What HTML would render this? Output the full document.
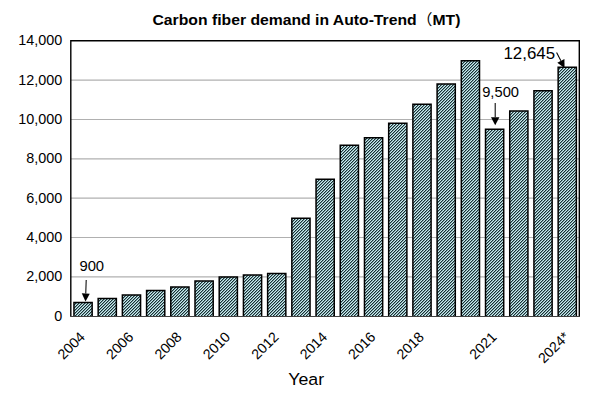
<!DOCTYPE html><html><head><meta charset="utf-8"><title>Carbon fiber demand in Auto-Trend</title><style>html,body{margin:0;padding:0;background:#fff;width:600px;height:400px;overflow:hidden}svg{display:block}text{font-family:"Liberation Sans","Noto Sans CJK JP",Arial,sans-serif;fill:#000}</style></head><body>
<svg width="600" height="400" viewBox="0 0 600 400">
<defs><pattern id="h" patternUnits="userSpaceOnUse" x="0" y="0" width="3" height="3"><rect width="3" height="3" fill="#7a9ca2"/><rect x="0" y="0" width="1" height="1" fill="#193032"/><rect x="1" y="2" width="1" height="1" fill="#193032"/><rect x="2" y="1" width="1" height="1" fill="#193032"/><rect x="1" y="1" width="1" height="1" fill="#caecf0"/><rect x="0" y="2" width="1" height="1" fill="#caecf0"/><rect x="2" y="0" width="1" height="1" fill="#caecf0"/></pattern></defs>
<rect width="600" height="400" fill="#fff"/>
<line x1="70.8" y1="276.86" x2="579.3" y2="276.86" stroke="#b0b0b0" stroke-width="1.2"/>
<line x1="70.8" y1="237.51" x2="579.3" y2="237.51" stroke="#b0b0b0" stroke-width="1.2"/>
<line x1="70.8" y1="198.17" x2="579.3" y2="198.17" stroke="#b0b0b0" stroke-width="1.2"/>
<line x1="70.8" y1="158.83" x2="579.3" y2="158.83" stroke="#b0b0b0" stroke-width="1.2"/>
<line x1="70.8" y1="119.49" x2="579.3" y2="119.49" stroke="#b0b0b0" stroke-width="1.2"/>
<line x1="70.8" y1="80.14" x2="579.3" y2="80.14" stroke="#b0b0b0" stroke-width="1.2"/>
<rect x="73.95" y="302.45" width="18.20" height="13.75" fill="url(#h)"/>
<path d="M73.95 316.20V302.45H92.15V316.20" fill="none" stroke="#000" stroke-width="1.5"/>
<rect x="98.16" y="298.55" width="18.20" height="17.65" fill="url(#h)"/>
<path d="M98.16 316.20V298.55H116.36V316.20" fill="none" stroke="#000" stroke-width="1.5"/>
<rect x="122.37" y="294.95" width="18.20" height="21.25" fill="url(#h)"/>
<path d="M122.37 316.20V294.95H140.57V316.20" fill="none" stroke="#000" stroke-width="1.5"/>
<rect x="146.58" y="290.45" width="18.20" height="25.75" fill="url(#h)"/>
<path d="M146.58 316.20V290.45H164.78V316.20" fill="none" stroke="#000" stroke-width="1.5"/>
<rect x="170.79" y="286.95" width="18.20" height="29.25" fill="url(#h)"/>
<path d="M170.79 316.20V286.95H188.99V316.20" fill="none" stroke="#000" stroke-width="1.5"/>
<rect x="195.00" y="280.95" width="18.20" height="35.25" fill="url(#h)"/>
<path d="M195.00 316.20V280.95H213.20V316.20" fill="none" stroke="#000" stroke-width="1.5"/>
<rect x="219.21" y="276.95" width="18.20" height="39.25" fill="url(#h)"/>
<path d="M219.21 316.20V276.95H237.41V316.20" fill="none" stroke="#000" stroke-width="1.5"/>
<rect x="243.42" y="275.05" width="18.20" height="41.15" fill="url(#h)"/>
<path d="M243.42 316.20V275.05H261.62V316.20" fill="none" stroke="#000" stroke-width="1.5"/>
<rect x="267.63" y="273.45" width="18.20" height="42.75" fill="url(#h)"/>
<path d="M267.63 316.20V273.45H285.83V316.20" fill="none" stroke="#000" stroke-width="1.5"/>
<rect x="291.84" y="218.35" width="18.20" height="97.85" fill="url(#h)"/>
<path d="M291.84 316.20V218.35H310.04V316.20" fill="none" stroke="#000" stroke-width="1.5"/>
<rect x="316.05" y="179.15" width="18.20" height="137.05" fill="url(#h)"/>
<path d="M316.05 316.20V179.15H334.25V316.20" fill="none" stroke="#000" stroke-width="1.5"/>
<rect x="340.26" y="145.35" width="18.20" height="170.85" fill="url(#h)"/>
<path d="M340.26 316.20V145.35H358.46V316.20" fill="none" stroke="#000" stroke-width="1.5"/>
<rect x="364.47" y="137.75" width="18.20" height="178.45" fill="url(#h)"/>
<path d="M364.47 316.20V137.75H382.67V316.20" fill="none" stroke="#000" stroke-width="1.5"/>
<rect x="388.68" y="123.35" width="18.20" height="192.85" fill="url(#h)"/>
<path d="M388.68 316.20V123.35H406.88V316.20" fill="none" stroke="#000" stroke-width="1.5"/>
<rect x="412.89" y="104.35" width="18.20" height="211.85" fill="url(#h)"/>
<path d="M412.89 316.20V104.35H431.09V316.20" fill="none" stroke="#000" stroke-width="1.5"/>
<rect x="437.10" y="84.05" width="18.20" height="232.15" fill="url(#h)"/>
<path d="M437.10 316.20V84.05H455.30V316.20" fill="none" stroke="#000" stroke-width="1.5"/>
<rect x="461.31" y="60.85" width="18.20" height="255.35" fill="url(#h)"/>
<path d="M461.31 316.20V60.85H479.51V316.20" fill="none" stroke="#000" stroke-width="1.5"/>
<rect x="485.52" y="129.15" width="18.20" height="187.05" fill="url(#h)"/>
<path d="M485.52 316.20V129.15H503.72V316.20" fill="none" stroke="#000" stroke-width="1.5"/>
<rect x="509.73" y="111.05" width="18.20" height="205.15" fill="url(#h)"/>
<path d="M509.73 316.20V111.05H527.93V316.20" fill="none" stroke="#000" stroke-width="1.5"/>
<rect x="533.94" y="90.75" width="18.20" height="225.45" fill="url(#h)"/>
<path d="M533.94 316.20V90.75H552.14V316.20" fill="none" stroke="#000" stroke-width="1.5"/>
<rect x="558.15" y="67.35" width="18.20" height="248.85" fill="url(#h)"/>
<path d="M558.15 316.20V67.35H576.35V316.20" fill="none" stroke="#000" stroke-width="1.5"/>
<path d="M70.8 316.2V40.8H579.3V316.2" fill="none" stroke="#000" stroke-width="1.4" stroke-linejoin="miter"/>
<line x1="70.1" y1="316.5" x2="580.0" y2="316.5" stroke="#404040" stroke-width="1.0"/>
<text x="62.3" y="320.60" font-size="14.4" text-anchor="end">0</text>
<text x="62.3" y="281.26" font-size="14.4" text-anchor="end">2,000</text>
<text x="62.3" y="241.91" font-size="14.4" text-anchor="end">4,000</text>
<text x="62.3" y="202.57" font-size="14.4" text-anchor="end">6,000</text>
<text x="62.3" y="163.23" font-size="14.4" text-anchor="end">8,000</text>
<text x="62.3" y="123.89" font-size="14.4" text-anchor="end">10,000</text>
<text x="62.3" y="84.54" font-size="14.4" text-anchor="end">12,000</text>
<text x="62.3" y="45.20" font-size="14.4" text-anchor="end">14,000</text>
<text transform="translate(78.61,330.60) rotate(-45)" font-size="14.2" text-anchor="end" dy="0.72em">2004</text>
<text transform="translate(127.04,330.60) rotate(-45)" font-size="14.2" text-anchor="end" dy="0.72em">2006</text>
<text transform="translate(175.46,330.60) rotate(-45)" font-size="14.2" text-anchor="end" dy="0.72em">2008</text>
<text transform="translate(223.89,330.60) rotate(-45)" font-size="14.2" text-anchor="end" dy="0.72em">2010</text>
<text transform="translate(272.32,330.60) rotate(-45)" font-size="14.2" text-anchor="end" dy="0.72em">2012</text>
<text transform="translate(320.75,330.60) rotate(-45)" font-size="14.2" text-anchor="end" dy="0.72em">2014</text>
<text transform="translate(369.18,330.60) rotate(-45)" font-size="14.2" text-anchor="end" dy="0.72em">2016</text>
<text transform="translate(417.61,330.60) rotate(-45)" font-size="14.2" text-anchor="end" dy="0.72em">2018</text>
<text transform="translate(490.25,330.60) rotate(-45)" font-size="14.2" text-anchor="end" dy="0.72em">2021</text>
<text transform="translate(562.89,330.60) rotate(-45)" font-size="14.2" text-anchor="end" dy="0.72em">2024*</text>
<text transform="translate(152.5,25.0) scale(1.05,1)" font-size="15" font-weight="bold">Carbon fiber demand in Auto-Trend<tspan font-family="Noto Sans CJK JP" font-weight="normal">（</tspan>MT)</text>
<text transform="translate(288.2,384.9) scale(1.02,1)" font-size="17.4" >Year</text>
<text transform="translate(79.4,270.5) scale(1,1)" font-size="14.8" >900</text>
<text transform="translate(482.2,96.7) scale(1.066,1)" font-size="13.8" >9,500</text>
<text transform="translate(503.4,58.8) scale(1.0,1)" font-size="16.9" >12,645</text>
<line x1="86.2" y1="280" x2="85.76" y2="293.50" stroke="#000" stroke-width="1.05"/><polygon points="85.5,301.5 81.76,293.37 89.76,293.63" fill="#000"/>
<line x1="495.2" y1="102.9" x2="495.20" y2="117.20" stroke="#000" stroke-width="1.05"/><polygon points="495.2,125.2 491.00,117.20 499.40,117.20" fill="#000"/>
<line x1="556.6" y1="52.4" x2="560.89" y2="60.86" stroke="#000" stroke-width="1.05"/><polygon points="564.5,68 557.32,62.67 564.45,59.06" fill="#000"/>
</svg></body></html>
